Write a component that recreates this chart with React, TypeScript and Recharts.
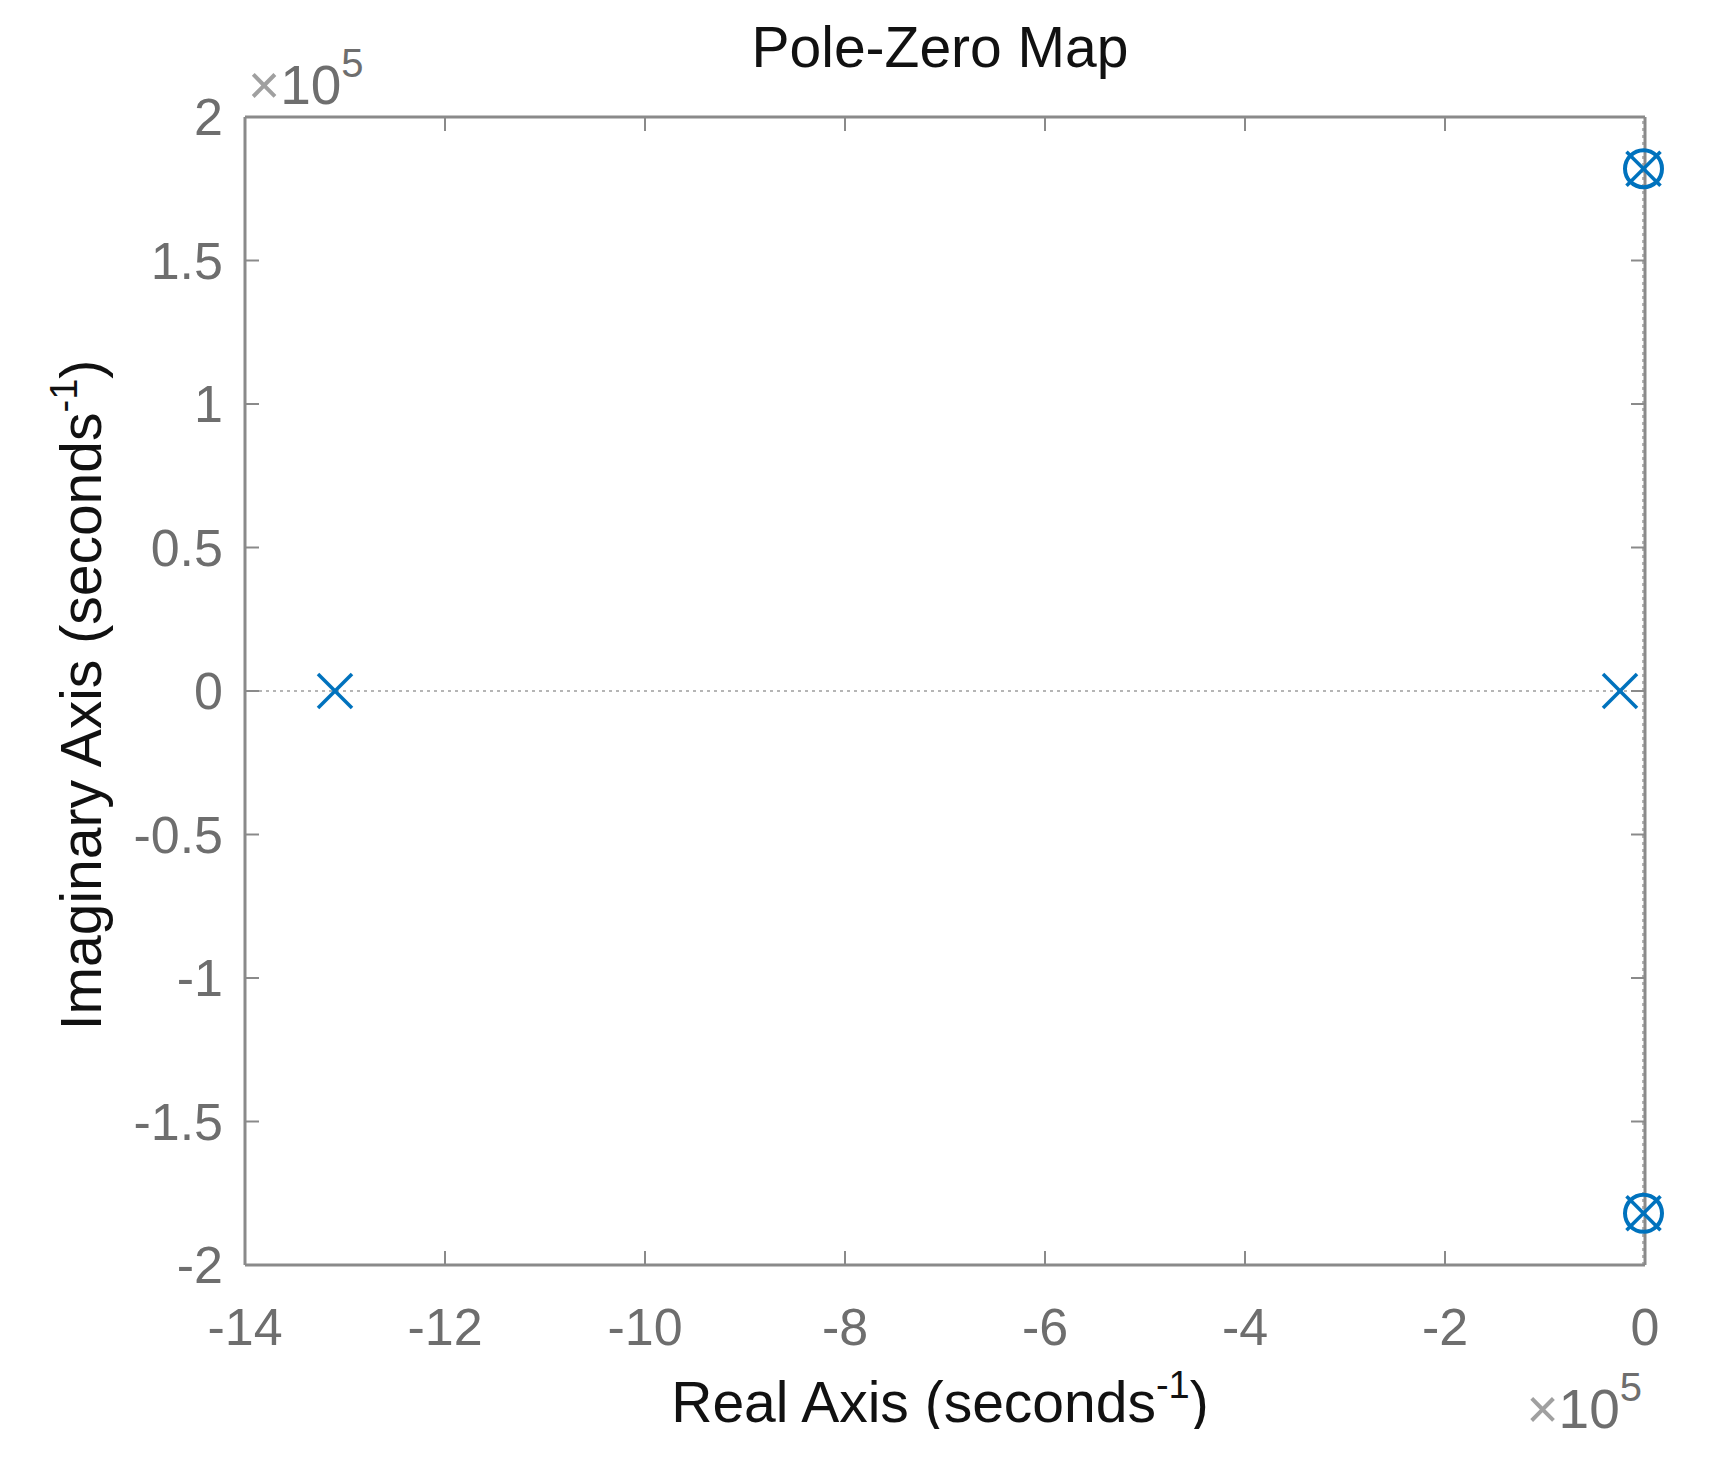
import { ScatterChart, Scatter, XAxis, YAxis, ReferenceLine } from "recharts";

// pole / zero locations in seconds^-1
const POLE_RE = [-13.1e5, -0.25e5, -0.015e5, -0.015e5];
const POLE_IM = [0, 0, 1.82e5, -1.82e5];
const ZERO_RE = [-0.015e5, -0.015e5];
const ZERO_IM = [1.82e5, -1.82e5];

const X_TICKS = [-14e5, -12e5, -10e5, -8e5, -6e5, -4e5, -2e5, 0];
const Y_TICKS = [-2e5, -1.5e5, -1e5, -0.5e5, 0, 0.5e5, 1e5, 1.5e5, 2e5];

const poles = POLE_RE.map((re, i) => ({ re, im: POLE_IM[i] }));
const zeros = ZERO_RE.map((re, i) => ({ re, im: ZERO_IM[i] }));

const BLUE = "#0072BD";
const AXIS = "#8a8a8a";
const TICK_TEXT = "#6e6e6e";
const FONT = "'Liberation Sans', Arial, sans-serif";

const fmt = (v: number) => String(Math.round((v / 1e5) * 10) / 10);

function Cross(props: any) {
  const { cx, cy } = props;
  const s = 17;
  return (
    <g stroke={BLUE} strokeWidth={3.5} fill="none">
      <line x1={cx - s} y1={cy - s} x2={cx + s} y2={cy + s} />
      <line x1={cx - s} y1={cy + s} x2={cx + s} y2={cy - s} />
    </g>
  );
}

function Ring(props: any) {
  const { cx, cy } = props;
  return <circle cx={cx} cy={cy} r={18.5} stroke={BLUE} strokeWidth={4} fill="none" />;
}

const NoLabel = () => <g />;

const tickStyle = { fill: TICK_TEXT, fontSize: 52, fontFamily: FONT };
const axisLine = { stroke: AXIS, strokeWidth: 3 };
const tickLine = { stroke: AXIS, strokeWidth: 2 };

export default function App() {
  return (
    <div style={{ position: "absolute", left: 0, top: 0, width: 1709, height: 1466, background: "#fff" }}>
      <ScatterChart width={1709} height={1466} margin={{ top: 116, right: 63, bottom: 0, left: 0 }}>
        <XAxis
          xAxisId="b"
          dataKey="re"
          type="number"
          domain={[-14e5, 0]}
          ticks={X_TICKS}
          interval={0}
          tickFormatter={fmt}
          height={201}
          tickSize={-14}
          tickMargin={57}
          axisLine={axisLine}
          tickLine={tickLine}
          tick={tickStyle}
        />
        <XAxis
          xAxisId="t"
          dataKey="re"
          type="number"
          orientation="top"
          domain={[-14e5, 0]}
          ticks={X_TICKS}
          interval={0}
          height={1}
          tickSize={-14}
          tick={NoLabel}
          axisLine={axisLine}
          tickLine={tickLine}
        />
        <YAxis
          yAxisId="l"
          dataKey="im"
          type="number"
          domain={[-2e5, 2e5]}
          ticks={Y_TICKS}
          interval={0}
          tickFormatter={fmt}
          width={245}
          tickSize={-14}
          tickMargin={36}
          axisLine={axisLine}
          tickLine={tickLine}
          tick={tickStyle}
        />
        <YAxis
          yAxisId="r"
          dataKey="im"
          type="number"
          orientation="right"
          domain={[-2e5, 2e5]}
          ticks={Y_TICKS}
          interval={0}
          width={1}
          tickSize={-14}
          tick={NoLabel}
          axisLine={axisLine}
          tickLine={tickLine}
        />
        <ReferenceLine xAxisId="b" yAxisId="l" y={0} stroke="#b5b5b5" strokeWidth={2} strokeDasharray="3 4" />
        <ReferenceLine xAxisId="b" yAxisId="l" x={-0.02e5} stroke="#b5b5b5" strokeWidth={2} strokeDasharray="3 4" />
        <Scatter xAxisId="b" yAxisId="l" data={poles} shape={Cross} isAnimationActive={false} />
        <Scatter xAxisId="t" yAxisId="r" data={zeros} shape={Ring} isAnimationActive={false} />
      </ScatterChart>
      <svg
        width={1709}
        height={1466}
        style={{ position: "absolute", left: 0, top: 0, pointerEvents: "none" }}
        fontFamily={FONT}
      >
        <defs>
          <clipPath id="crop">
            <rect x={0} y={0} width={1709} height={1429} />
          </clipPath>
        </defs>
        <text x={940} y={67} fontSize={57} fill="#111" textAnchor="middle">
          Pole-Zero Map
        </text>
        <text x={248} y={104} fontSize={55} fill={TICK_TEXT}>
          <tspan fill="#a0a0a0">×</tspan>10
          <tspan fontSize={40} dy={-27}>5</tspan>
        </text>
        <g clipPath="url(#crop)">
          <text x={940} y={1422} fontSize={57} fill="#111" textAnchor="middle">
            Real Axis (seconds
            <tspan fontSize={38} dy={-24}>-1</tspan>
            <tspan dy={24}>)</tspan>
          </text>
        </g>
        <text x={1642} y={1428} fontSize={55} fill={TICK_TEXT} textAnchor="end">
          <tspan fill="#a0a0a0">×</tspan>10
          <tspan fontSize={40} dy={-27}>5</tspan>
        </text>
        <text
          transform="translate(101 695) rotate(-90)"
          fontSize={57}
          fill="#111"
          textAnchor="middle"
        >
          Imaginary Axis (seconds
          <tspan fontSize={38} dy={-24}>-1</tspan>
          <tspan dy={24}>)</tspan>
        </text>
      </svg>
    </div>
  );
}
